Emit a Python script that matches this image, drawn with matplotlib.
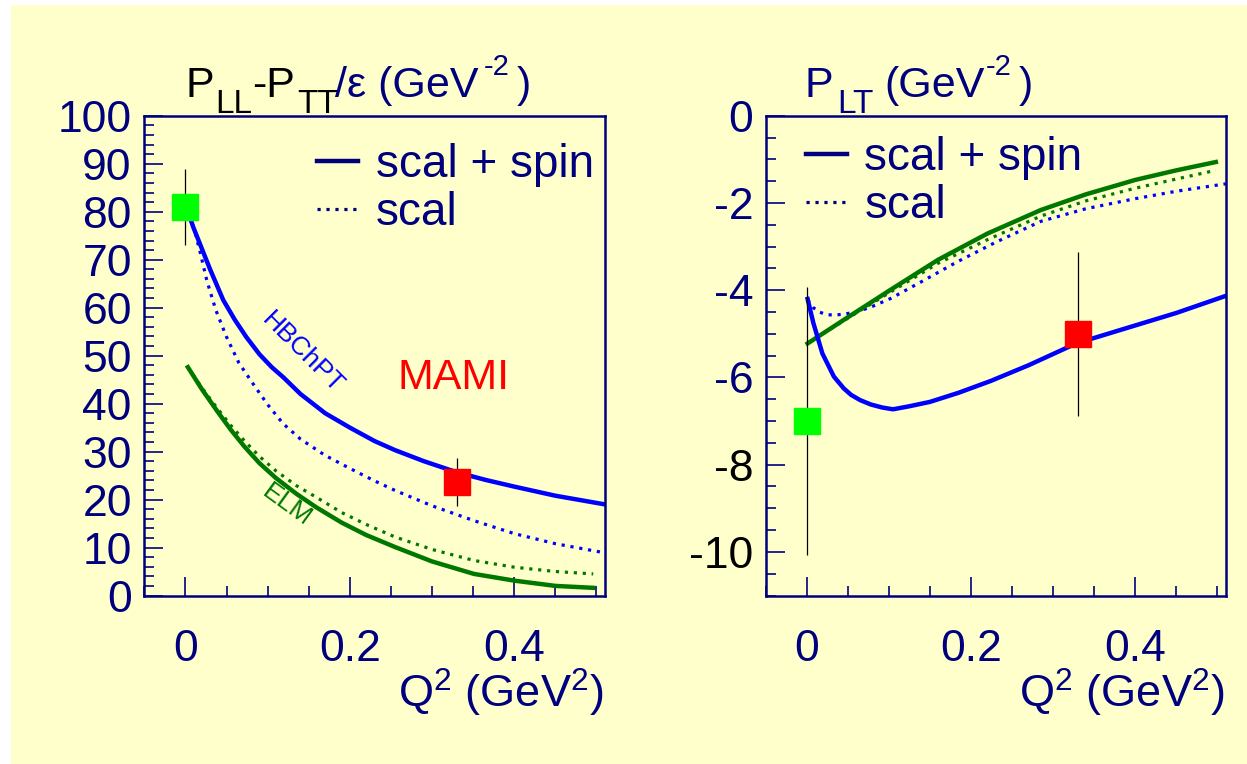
import numpy as np
import matplotlib
matplotlib.use("Agg")
import matplotlib.pyplot as plt
from matplotlib.lines import Line2D
from matplotlib.patches import Rectangle
from matplotlib.ticker import MultipleLocator

plt.rcParams['font.family'] = ['Liberation Sans', 'DejaVu Sans']
plt.rcParams['mathtext.fontset'] = 'custom'
plt.rcParams['mathtext.rm'] = 'Liberation Sans'
plt.rcParams['mathtext.it'] = 'Liberation Sans'
plt.rcParams['mathtext.default'] = 'regular'

NAVY = '#00007f'
BLUE = '#0000ff'
GREEN = '#007800'
BG = '#ffffcc'

# ---- left panel: P_LL - P_TT/eps ----
q_hb_full = [0.005, 0.01, 0.02, 0.03, 0.046, 0.06, 0.074, 0.09, 0.105, 0.119, 0.14,
             0.17, 0.2, 0.23, 0.255, 0.29, 0.33, 0.365, 0.4, 0.45, 0.51]
hb_full = [79.0, 76.6, 72.3, 68.0, 61.6, 57.5, 53.9, 50.3, 47.6, 45.5, 42.0,
           38.0, 35.0, 32.2, 30.3, 28.0, 25.7, 24.1, 22.7, 20.8, 19.0]
q_hb_scal = [0.005, 0.011, 0.018, 0.026, 0.037, 0.05, 0.065, 0.082, 0.1, 0.119, 0.14,
             0.17, 0.2, 0.23, 0.255, 0.3, 0.351, 0.4, 0.45, 0.51]
hb_scal = [79.0, 76.2, 71.5, 65.7, 59.5, 53.9, 48.5, 44.2, 39.8, 35.8, 32.6,
           29.2, 26.5, 23.9, 21.9, 18.7, 15.6, 12.9, 10.8, 8.9]
q_elm = [0.003, 0.02, 0.038, 0.055, 0.072, 0.09, 0.11, 0.135, 0.159, 0.19, 0.22,
         0.255, 0.3, 0.351, 0.4, 0.45, 0.496]
elm_full = [47.6, 43.0, 38.6, 34.6, 31.0, 27.6, 24.5, 21.2, 18.4, 15.2, 12.6,
            10.1, 7.1, 4.5, 3.1, 2.0, 1.6]
elm_scal = [47.6, 43.3, 39.2, 35.5, 32.2, 29.0, 26.0, 22.9, 20.5, 17.3, 14.8,
            12.2, 9.6, 7.3, 5.9, 5.0, 4.5]
pll_x = [0.0, 0.33]
pll_y = [81.0, 23.6]
pll_err = [8.0, 5.0]
pt_col = ['#00ff00', '#ff0000']

# ---- right panel: P_LT ----
q_lt_full = [0.001, 0.008, 0.019, 0.033, 0.045, 0.054, 0.065, 0.078, 0.092, 0.105, 0.125,
             0.15, 0.185, 0.224, 0.27, 0.328, 0.382, 0.45, 0.51]
lt_full = [-4.2, -4.75, -5.45, -5.98, -6.25, -6.4, -6.52, -6.62, -6.69, -6.73, -6.66,
           -6.56, -6.35, -6.08, -5.72, -5.22, -4.91, -4.52, -4.13]
q_lt_scal = [0.001, 0.008, 0.015, 0.025, 0.033, 0.045, 0.062, 0.08, 0.102, 0.14, 0.183,
             0.23, 0.285, 0.34, 0.4, 0.45, 0.51]
lt_scal = [-4.22, -4.4, -4.5, -4.56, -4.57, -4.55, -4.49, -4.37, -4.19, -3.8, -3.35,
           -2.9, -2.42, -2.13, -1.9, -1.73, -1.56]
q_lt_elm = [0.001, 0.05, 0.102, 0.16, 0.22, 0.285, 0.34, 0.4, 0.45, 0.498]
lt_elm_full = [-5.22, -4.62, -3.99, -3.3, -2.7, -2.16, -1.8, -1.47, -1.25, -1.06]
lt_elm_scal = [-5.22, -4.64, -4.04, -3.38, -2.84, -2.3, -1.95, -1.66, -1.45, -1.25]
plt_x = [0.0, 0.33]
plt_y = [-7.0, -5.0]
plt_err = [3.07, 1.88]

W, H = 1247, 764
fig = plt.figure(figsize=(W / 100, H / 100), dpi=100, facecolor='white')
fig.patches.append(Rectangle((11 / W, 0), 1, 1 - 5 / H, transform=fig.transFigure,
                             facecolor=BG, edgecolor='none', zorder=-10))

ax1 = fig.add_axes([144.3 / W, 1 - 595.5 / H, 460.4 / W, 479.7 / H])
ax2 = fig.add_axes([765.7 / W, 1 - 595.5 / H, 460.0 / W, 479.7 / H])


def style(ax, ymaj, ymin):
    ax.set_facecolor(BG)
    ax.set_xlim(-0.05, 0.51)
    ax.xaxis.set_major_locator(MultipleLocator(0.2))
    ax.xaxis.set_minor_locator(MultipleLocator(0.05))
    ax.yaxis.set_major_locator(MultipleLocator(ymaj))
    ax.yaxis.set_minor_locator(MultipleLocator(ymin))
    for s in ax.spines.values():
        s.set_color(NAVY)
        s.set_linewidth(1.8)
    ax.tick_params(which='both', direction='in', color=NAVY, top=False, right=False)
    ax.tick_params(which='major', length=14, width=1.2, labelsize=32, labelcolor=NAVY)
    ax.tick_params(which='minor', length=7, width=1.2)
    ax.tick_params(axis='y', pad=9)
    ax.tick_params(axis='x', pad=24)
    ax.xaxis.set_major_formatter(matplotlib.ticker.FuncFormatter(lambda v, p: '%g' % round(v, 3)))
    ax.text(0.997, -0.233, r'$Q^{2}\ (GeV^{2})$', transform=ax.transAxes, ha='right',
            va='baseline', fontsize=32.5, color=NAVY)


def title(pieces):
    # pieces: (x_px, baseline_px, text, size, colour)
    for x, y, s, fs, c in pieces:
        fig.text(x / W, 1 - y / H, s, fontsize=fs, color=c, ha='left', va='baseline')


dot = (0, (1, 1.8))

# left panel
style(ax1, 10, 2)
ax1.set_ylim(0, 100)
ax1.plot(q_elm, elm_scal, color=GREEN, lw=2.3, ls=dot)
ax1.plot(q_elm, elm_full, color=GREEN, lw=3.2)
ax1.plot(q_hb_scal, hb_scal, color=BLUE, lw=2.3, ls=dot)
ax1.plot(q_hb_full, hb_full, color=BLUE, lw=3.2)
for x, y, e, c in zip(pll_x, pll_y, pll_err, pt_col):
    ax1.errorbar([x], [y], yerr=[e], fmt='none', ecolor='black', elinewidth=0.9, zorder=3)
    ax1.plot([x], [y], marker='s', ms=18.5, mfc=c, mec=c, ls='none', zorder=4)
ax1.text(0.143, 50.5, 'HBChPT', color=BLUE, fontsize=19, rotation=-45,
         ha='center', va='center', rotation_mode='anchor')
ax1.text(0.123, 18.8, 'ELM', color=GREEN, fontsize=19, rotation=-36,
         ha='center', va='center', rotation_mode='anchor')
ax1.text(0.326, 45.4, 'MAMI', color='#ff0000', fontsize=31, ha='center', va='center')
leg_h = [Line2D([], [], color=NAVY, lw=3.2), Line2D([], [], color=NAVY, lw=2.3, ls=dot)]
leg_kw = dict(loc='upper left', frameon=False, fontsize=33, handlelength=0.9,
              handletextpad=0.38, labelspacing=0.08, borderaxespad=0, borderpad=0,
              labelcolor=NAVY)
ax1.legend(leg_h, ['scal + spin', 'scal'], bbox_to_anchor=(0.375, 0.943), **leg_kw)

# right panel
style(ax2, 2, 0.5)
ax2.set_ylim(-11, 0)
ax2.plot(q_lt_elm, lt_elm_scal, color=GREEN, lw=2.3, ls=dot)
ax2.plot(q_lt_scal, lt_scal, color=BLUE, lw=2.3, ls=dot)
ax2.plot(q_lt_elm, lt_elm_full, color=GREEN, lw=3.2)
ax2.plot(q_lt_full, lt_full, color=BLUE, lw=3.2)
for x, y, e, c in zip(plt_x, plt_y, plt_err, pt_col):
    ax2.errorbar([x], [y], yerr=[e], fmt='none', ecolor='black', elinewidth=0.9, zorder=3)
    ax2.plot([x], [y], marker='s', ms=18.5, mfc=c, mec=c, ls='none', zorder=4)
ax2.legend(leg_h, ['scal + spin', 'scal'], bbox_to_anchor=(0.087, 0.958), **leg_kw)
ax2.set_yticks([0, -2, -4, -6, -8, -10])
ax2.set_yticklabels(['0', '-2', '-4', '-6', '-8', '-10'])
for lab in ax2.get_yticklabels()[4:]:
    lab.set_color('black')

# titles, built piece by piece (ROOT-like sub/superscripts)
title([(185, 97, 'P', 31, 'black'),
       (215, 113, 'LL', 24, 'black'),
       (252, 97, '-P', 31, 'black'),
       (297, 113, 'TT', 24, 'black'),
       (335, 97, '/ε (GeV', 31, NAVY),
       (484, 75, '-2', 21, NAVY),
       (517, 97, ')', 31, NAVY)])
title([(805, 97, 'P', 31, NAVY),
       (837, 113, 'LT', 24, NAVY),
       (884, 97, '(GeV', 31, NAVY),
       (986, 75, '-2', 21, NAVY),
       (1019, 97, ')', 31, NAVY)])

fig.savefig('out.png', dpi=100, facecolor=fig.get_facecolor())
